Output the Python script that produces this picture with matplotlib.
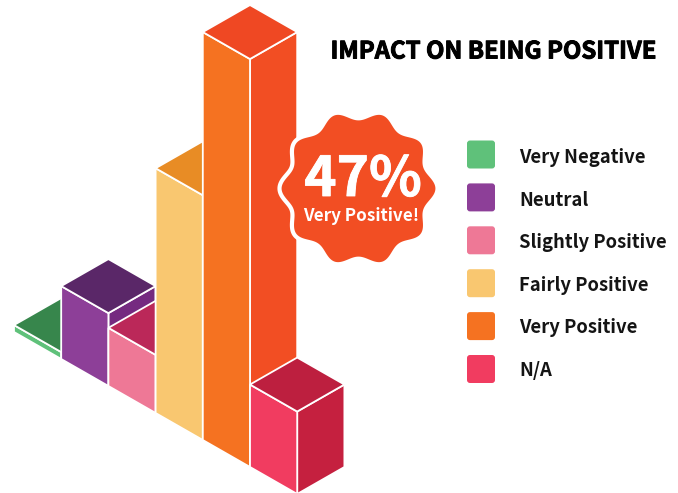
import numpy as np
import matplotlib
matplotlib.use("Agg")
import matplotlib.pyplot as plt
import matplotlib.patheffects as pe
from matplotlib.patches import FancyBboxPatch, Polygon

categories = ["Very Negative", "Neutral", "Slightly Positive", "Fairly Positive", "Very Positive", "N/A"]
percents = [0.8, 8.4, 6.7, 28.2, 47.0, 9.5]

frontColors = ["#5fc17a", "#8d3f98", "#ee7896", "#f9c770", "#f57221", "#f13c60"]
sideColors = ["#37864c", "#752a80", "#bb2859", "#e88c25", "#f24e23", "#c5203f"]
topColors = ["#37864c", "#5a2768", "#bb2859", "#e88c25", "#ef4823", "#bd1f3f"]

title = "IMPACT ON BEING POSITIVE"
badgeValue = "47%"
badgeLabel = "Very Positive!"

# isometric layout, in pixels
startX = 14
startY = 332
stepX = 47.2
stepY = 27
pxPerPercent = 8.68

plt.rcParams["font.family"] = ["Noto Sans CJK SC", "DejaVu Sans"]


def drawBar(ax, i, value):
    x = startX + i * stepX
    y = startY + i * stepY
    h = value * pxPerPercent
    face = [(x, y), (x + stepX, y + stepY), (x + stepX, y + stepY - h), (x, y - h)]
    side = [(x + stepX, y + stepY), (x + 2 * stepX, y), (x + 2 * stepX, y - h), (x + stepX, y + stepY - h)]
    top = [(x, y - h), (x + stepX, y + stepY - h), (x + 2 * stepX, y - h), (x + stepX, y - stepY - h)]
    for pts, color in ((side, sideColors[i]), (face, frontColors[i]), (top, topColors[i])):
        ax.add_patch(Polygon(pts, closed=True, facecolor=color, edgecolor="white", linewidth=1.3, joinstyle="miter", zorder=2 + i))


def drawBadge(ax):
    cx, cy = 358.5, 188.5
    theta = np.linspace(0, 2 * np.pi, 400)
    r = 74.6 + 4.4 * np.cos(10 * theta)
    pts = np.column_stack((cx + r * np.cos(theta), cy - r * np.sin(theta)))
    ax.add_patch(Polygon(pts, closed=True, facecolor="#f24e23", edgecolor="white", linewidth=3, zorder=10))
    thick = [pe.withStroke(linewidth=0.6, foreground="white")]
    ax.text(363, 179.5, badgeValue, color="white", fontsize=39.5, fontweight="bold", ha="center", va="center", zorder=11, path_effects=thick)
    ax.text(361.5, 216, badgeLabel, color="white", fontsize=12.3, fontweight="bold", ha="center", va="center", zorder=11)


def drawLegend(ax):
    for i, name in enumerate(categories):
        y = 154.5 + i * 42.9
        ax.add_patch(FancyBboxPatch((469, y - 12), 24, 24, boxstyle="round,pad=2,rounding_size=3",
                                    facecolor=frontColors[i], edgecolor="none", zorder=2))
        ax.text(519, 157.5 + i * 42.6, name, color="#141414", fontsize=13.3, fontweight="bold", ha="left", va="center")


def main():
    fig = plt.figure(figsize=(6.78, 4.93), dpi=100)
    ax = fig.add_axes([0, 0, 1, 1])
    ax.set_xlim(0, 678)
    ax.set_ylim(493, 0)
    ax.axis("off")

    for i, value in enumerate(percents):
        drawBar(ax, i, value)
    drawBadge(ax)
    drawLegend(ax)
    ax.text(330.5, 51.5, title, color="black", fontsize=17.2, fontweight="bold", ha="left", va="center",
            path_effects=[pe.withStroke(linewidth=0.7, foreground="black")])

    fig.savefig("out.png", dpi=100, facecolor="white")


if __name__ == '__main__':
    main()
